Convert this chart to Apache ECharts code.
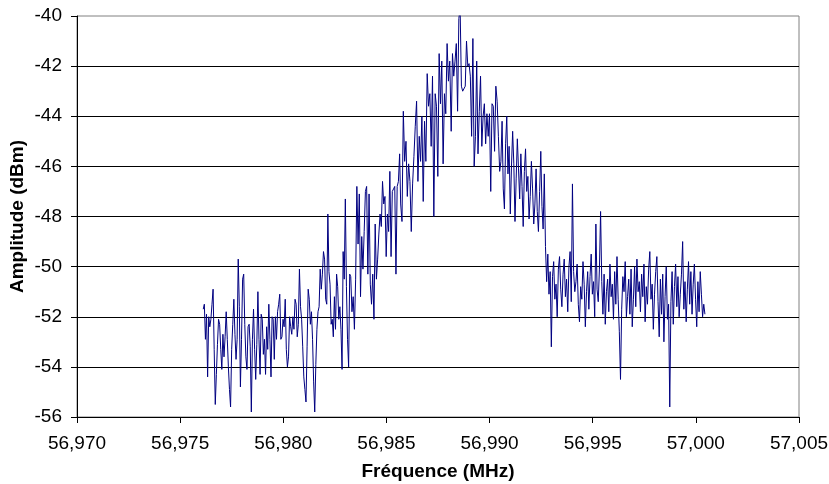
<!DOCTYPE html>
<html>
<head>
<meta charset="utf-8">
<script src="https://cdn.jsdelivr.net/npm/echarts@6/dist/echarts.min.js"></script>
<style>
html,body{margin:0;padding:0;background:#fff;}
#chart{width:829px;height:484px;}
</style>
</head>
<body>
<div id="chart"></div>
<script>
// Axis settings
var xTicks = [56.970, 56.975, 56.980, 56.985, 56.990, 56.995, 57.000, 57.005];
var yTicks = [-56, -54, -52, -50, -48, -46, -44, -42, -40];
var xTitle = 'Fréquence (MHz)';
var yTitle = 'Amplitude (dBm)';

// Frequency ranges (MHz) of each traced segment, samples evenly spaced inside
var segRanges = [
  [56.97612, 56.98322],
  [56.98327, 56.98564],
  [56.98569, 56.98807],
  [56.98814, 56.99049],
  [56.99055, 57.00044]
];

// Amplitude readings (dBm)
var segA = [-51.7,-51.5,-52.9,-51.9,-54.4,-52.0,-52.4,-52.1,-51.5,-50.9,
  -53.3,-55.5,-54.3,-53.1,-52.1,-52.3,-53.3,-54.1,-52.7,-53.6,
  -52.8,-51.8,-52.9,-54.0,-54.9,-55.6,-53.3,-52.3,-51.3,-52.7,
  -53.7,-52.9,-49.7,-51.6,-54.8,-52.9,-50.5,-50.3,-52.3,-53.6,
  -54.1,-52.4,-52.3,-53.2,-55.8,-52.9,-51.7,-53.3,-54.5,-53.1,
  -51.0,-52.9,-54.3,-51.9,-52.1,-53.5,-52.9,-54.3,-52.4,-53.3,
  -51.5,-52.9,-54.4,-52.0,-52.1,-53.7,-52.0,-52.9,-51.8,-51.5,
  -51.1,-52.9,-52.8,-52.1,-52.4,-51.3,-53.3,-54.0,-53.6,-52.0,
  -52.4,-52.7,-52.0,-52.5,-51.3,-51.5,-52.8,-52.3,-50.1,-51.6,
  -52.1,-53.2,-54.4,-54.9,-55.4,-53.2,-50.9,-51.3,-52.3,-51.8,
  -52.9,-54.6,-55.8,-53.9,-52.5,-51.8,-51.6,-50.1,-50.9,-50.3,
  -49.4,-49.7,-51.3,-51.5,-47.9,-50.2,-50.7,-52.3,-52.1,-52.8,
  -51.2,-52.5,-50.3,-50.8,-52.1,-51.6,-52.5,-54.1,-49.4,-50.5,
  -47.3,-50.8,-52.9,-54.0,-50.3];
var segB = [-50.4,-51.8,-51.2,-52.5,-50.5,-46.8,-49.1,-47.1,-51.2,-48.8,
  -50.1,-48.6,-47.0,-46.8,-50.3,-47.1,-50.7,-51.5,-50.3,-52.1,
  -48.3,-50.5,-49.7,-48.7,-47.9,-48.4,-46.6,-47.5,-47.2,-49.6,
  -47.9,-48.6,-46.2,-49.6,-47.0,-46.9,-46.8,-50.3,-46.8,-46.6,
  -45.5];
var segC = [-47.5,-48.2,-43.8,-45.8,-45.0,-47.2,-45.9,-46.6,-48.6,-46.7,
  -45.6,-44.4,-43.4,-46.6,-44.8,-45.8,-44.0,-47.4,-44.2,-45.8,
  -42.3,-43.6,-43.1,-45.2,-42.4,-48.0,-43.1,-43.6,-46.4,-41.5,
  -43.5,-41.8,-45.9,-43.1,-43.9,-41.1,-42.6,-41.8];
var segD = [-44.6,-41.5,-42.4,-41.8,-41.1,-43.8,-40.1,-39.7,-42.8,-43.0,
  -43.0,-42.8,-41.0,-42.0,-41.9,-42.4,-44.8,-40.9,-46.0,-44.8,
  -41.8,-45.5,-43.8,-42.4,-45.2,-44.0,-43.5,-45.1,-43.9,-44.8,
  -43.9,-47.0,-43.5,-43.6,-45.4,-42.8,-43.4,-44.8,-46.2];
var segE = [-45.8,-44.2,-46.9,-47.7,-45.1,-44.0,-46.3,-45.2,-47.9,-46.0,
  -44.6,-45.9,-48.2,-46.5,-44.9,-46.1,-47.3,-45.5,-46.8,-48.4,
  -46.2,-45.3,-47.0,-46.4,-48.1,-47.2,-45.8,-46.9,-48.3,-47.5,
  -46.1,-47.8,-48.6,-47.0,-45.4,-47.6,-48.5,-46.3,
  -49.2,-50.6,-49.5,-51.1,-50.2,-53.2,-50.4,-49.8,-51.3,-50.7,-52.0,-50.1,-49.6,
  -50.9,-51.6,-50.3,-49.7,-51.2,-50.5,-51.8,-50.0,-49.4,-51.4,-46.7,-50.2,-51.0,
  -50.6,-49.9,-51.5,-52.2,-50.8,-51.3,-49.8,-50.7,-52.4,-51.0,-50.2,-51.7,-50.4,
  -49.5,-51.1,-50.6,-52.0,-48.3,-50.9,-51.4,-50.1,
  -47.8,-50.6,-51.9,-50.3,-52.3,-51.0,-50.5,-51.8,-49.9,-51.2,-50.7,-52.1,-50.2,
  -51.5,-49.6,-51.3,-52.6,-54.5,-51.7,-50.4,-51.0,-49.8,-52.0,-51.2,-50.5,-51.9,
  -50.1,-52.4,-51.3,-50.0,-51.6,-49.7,-51.0,-50.6,
  -51.8,-50.3,-51.2,-49.9,-52.2,-50.8,-51.5,-50.1,-49.4,-51.3,-50.7,-52.5,-51.1,
  -50.2,-49.6,-51.4,-52.8,-50.5,-51.9,-50.3,-53.0,-51.2,-50.0,-52.1,-51.5,-55.6,
  -51.4,-50.2,-52.3,-50.8,-49.9,-51.6,-50.4,-52.0,-51.1,-50.3,-49.0,-51.7,-50.6,
  -52.2,-50.9,-49.8,-51.5,-50.2,-51.9,-50.7,-49.9,-51.3,-52.4,-50.6,-51.8,-50.2,
  -51.1,-52.0,-51.5,-51.9];

var segs = [segA, segB, segC, segD, segE];
var points = [];
segs.forEach(function (vals, k) {
  var f0 = segRanges[k][0], f1 = segRanges[k][1];
  var n = vals.length;
  for (var i = 0; i < n; i++) {
    points.push([f0 + (f1 - f0) * i / (n - 1), vals[i]]);
  }
});

var FONT = "'Liberation Sans', Arial, sans-serif";
var chart = echarts.init(document.getElementById('chart'), null, {renderer: 'canvas'});
chart.setOption({
  animation: false,
  backgroundColor: '#ffffff',
  grid: {
    left: 77, right: 30, top: 16, bottom: 67,
    containLabel: false,
    outerBoundsMode: 'none',
    show: true, borderColor: '#808080', borderWidth: 1,
    backgroundColor: 'transparent'
  },
  xAxis: {
    type: 'value',
    min: xTicks[0], max: xTicks[xTicks.length - 1], interval: 0.005,
    name: xTitle, nameLocation: 'middle', nameGap: 45, nameMoveOverlap: false,
    nameTextStyle: {fontFamily: FONT, fontSize: 19, fontWeight: 'bold', color: '#000'},
    axisLine: {show: true, lineStyle: {color: '#000', width: 1}},
    axisTick: {show: true, inside: false, length: 6, lineStyle: {color: '#000'}},
    axisLabel: {
      fontFamily: FONT, fontSize: 19, color: '#000', margin: 17,
      formatter: function (v) { return v.toFixed(3).replace('.', ','); }
    },
    splitLine: {show: false}
  },
  yAxis: {
    type: 'value',
    min: yTicks[0], max: yTicks[yTicks.length - 1], interval: 2,
    name: yTitle, nameLocation: 'middle', nameGap: 50, nameRotate: 90, nameMoveOverlap: false,
    nameTextStyle: {fontFamily: FONT, fontSize: 19, fontWeight: 'bold', color: '#000'},
    axisLine: {show: true, lineStyle: {color: '#000', width: 1}},
    axisTick: {show: true, inside: false, length: 6, lineStyle: {color: '#000'}},
    axisLabel: {fontFamily: FONT, fontSize: 19, color: '#000', margin: 15},
    splitLine: {show: true, showMaxLine: false, showMinLine: false, lineStyle: {color: '#000', width: 1}}
  },
  series: [{
    type: 'line',
    data: points,
    showSymbol: false,
    symbol: 'none',
    clip: true,
    lineStyle: {color: '#000080', width: 1},
    itemStyle: {color: '#000080'}
  }]
});
</script>
</body>
</html>
